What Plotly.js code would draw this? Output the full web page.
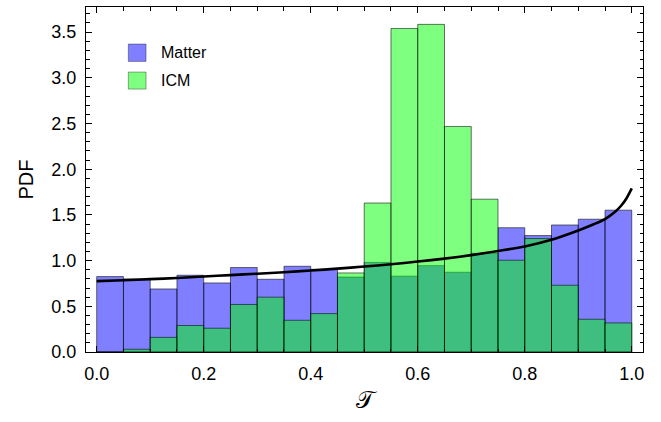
<!DOCTYPE html>
<html>
<head>
<meta charset="utf-8">
<script src="https://cdn.plot.ly/plotly-3.0.1.min.js"></script>
<style>
  html, body { margin: 0; padding: 0; background: #fff; }
  #chart { width: 661px; height: 422px; }
</style>
</head>
<body>
<div id="chart"></div>
<script>
// Histogram bins of width 0.05 on [0, 1] (bin centres)
const binCenters = [0.025, 0.075, 0.125, 0.175, 0.225, 0.275, 0.325, 0.375, 0.425, 0.475,
                    0.525, 0.575, 0.625, 0.675, 0.725, 0.775, 0.825, 0.875, 0.925, 0.975];
const binWidth = 0.05;

// Normalised histogram heights (PDF)
const matterPdf = [0.825, 0.80, 0.69, 0.84, 0.756, 0.924, 0.796, 0.938, 0.905, 0.82,
                   0.98, 0.83, 0.945, 0.873, 1.08, 1.36, 1.274, 1.39, 1.453, 1.552];
const icmPdf    = [0.0, 0.03, 0.16, 0.29, 0.26, 0.52, 0.60, 0.347, 0.42, 0.865,
                   1.63, 3.54, 3.585, 2.468, 1.672, 1.004, 1.241, 0.73, 0.358, 0.318];

// Reference density curve
const curveX = [0, 0.05, 0.1, 0.15, 0.2, 0.25, 0.3, 0.35, 0.4, 0.45, 0.5, 0.55, 0.6,
                0.65, 0.7, 0.75, 0.8, 0.85, 0.9, 0.93, 0.95, 0.97, 0.98, 0.99, 1.0];
const curveY = [0.775, 0.785, 0.797, 0.81, 0.826, 0.841, 0.857, 0.873, 0.892, 0.912,
                0.935, 0.96, 0.99, 1.022, 1.06, 1.105, 1.155, 1.228, 1.33, 1.40,
                1.455, 1.54, 1.60, 1.68, 1.79];

const seriesNames = ['Matter', 'ICM'];
const xTickVals = [0, 0.2, 0.4, 0.6, 0.8, 1.0];
const xTickText = ['0.0', '0.2', '0.4', '0.6', '0.8', '1.0'];
const yTickVals = [0, 0.5, 1.0, 1.5, 2.0, 2.5, 3.0, 3.5];
const yTickText = ['0.0', '0.5', '1.0', '1.5', '2.0', '2.5', '3.0', '3.5'];

const blueFill = 'rgba(0,0,255,0.5)';
const greenFill = 'rgba(0,255,0,0.5)';
const edge = 'rgba(0,0,0,0.55)';
const tickFont = { family: 'Liberation Sans, Arial, sans-serif', size: 18, color: '#000' };

const traces = [
  {
    type: 'bar', name: seriesNames[0], x: binCenters, y: matterPdf,
    width: binWidth, marker: { color: blueFill, line: { color: edge, width: 1 } },
    hoverinfo: 'x+y'
  },
  {
    type: 'bar', name: seriesNames[1], x: binCenters, y: icmPdf,
    width: binWidth, marker: { color: greenFill, line: { color: edge, width: 1 } },
    hoverinfo: 'x+y'
  },
  {
    type: 'scatter', mode: 'lines', x: curveX, y: curveY,
    line: { color: '#000', width: 2.6, shape: 'spline', smoothing: 0.8 },
    hoverinfo: 'skip'
  }
];

// Legend drawn as swatches + labels in paper coordinates
const legendShapes = [
  { type: 'rect', xref: 'paper', yref: 'paper', x0: 0.076, x1: 0.1078, y0: 0.8422, y1: 0.8927,
    fillcolor: blueFill, line: { color: 'rgba(0,0,0,0.35)', width: 1 } },
  { type: 'rect', xref: 'paper', yref: 'paper', x0: 0.076, x1: 0.1078, y0: 0.7621, y1: 0.8114,
    fillcolor: greenFill, line: { color: 'rgba(0,0,0,0.35)', width: 1 } }
];
const legendLabels = [
  { xref: 'paper', yref: 'paper', x: 0.1317, y: 0.8674, xanchor: 'left', yanchor: 'middle',
    text: seriesNames[0], showarrow: false,
    font: { family: 'Liberation Sans, Arial, sans-serif', size: 16, color: '#000' } },
  { xref: 'paper', yref: 'paper', x: 0.1317, y: 0.7868, xanchor: 'left', yanchor: 'middle',
    text: seriesNames[1], showarrow: false,
    font: { family: 'Liberation Sans, Arial, sans-serif', size: 16, color: '#000' } }
];

const axisCommon = {
  showgrid: false, zeroline: false, showline: true, linecolor: '#000', linewidth: 1,
  mirror: 'allticks', ticks: 'inside', ticklen: 6, tickwidth: 1, tickcolor: '#000',
  tickfont: tickFont, ticklabelstandoff: 5
};

const layout = {
  width: 661, height: 422,
  margin: { l: 86, r: 18, t: 7, b: 70 },
  paper_bgcolor: '#fff', plot_bgcolor: '#fff',
  barmode: 'overlay', bargap: 0,
  showlegend: false,
  xaxis: Object.assign({}, axisCommon, {
    range: [-0.02, 1.021],
    tickmode: 'array', tickvals: xTickVals, ticktext: xTickText,
    minor: { dtick: 0.05, ticks: 'inside', ticklen: 3.5, tickcolor: '#000', tickwidth: 1 },
    title: { text: '𝒯', standoff: 8,
             font: { family: 'DejaVu Serif, serif', size: 24, color: '#000' } }
  }),
  yaxis: Object.assign({}, axisCommon, {
    range: [0, 3.775],
    tickmode: 'array', tickvals: yTickVals, ticktext: yTickText,
    minor: { dtick: 0.1, ticks: 'inside', ticklen: 3.5, tickcolor: '#000', tickwidth: 1 },
    title: { text: 'PDF', standoff: 12,
             font: { family: 'Liberation Sans, Arial, sans-serif', size: 20, color: '#000' } }
  }),
  shapes: legendShapes,
  annotations: legendLabels
};

Plotly.newPlot('chart', traces, layout, { displayModeBar: false, staticPlot: true });
</script>
</body>
</html>
